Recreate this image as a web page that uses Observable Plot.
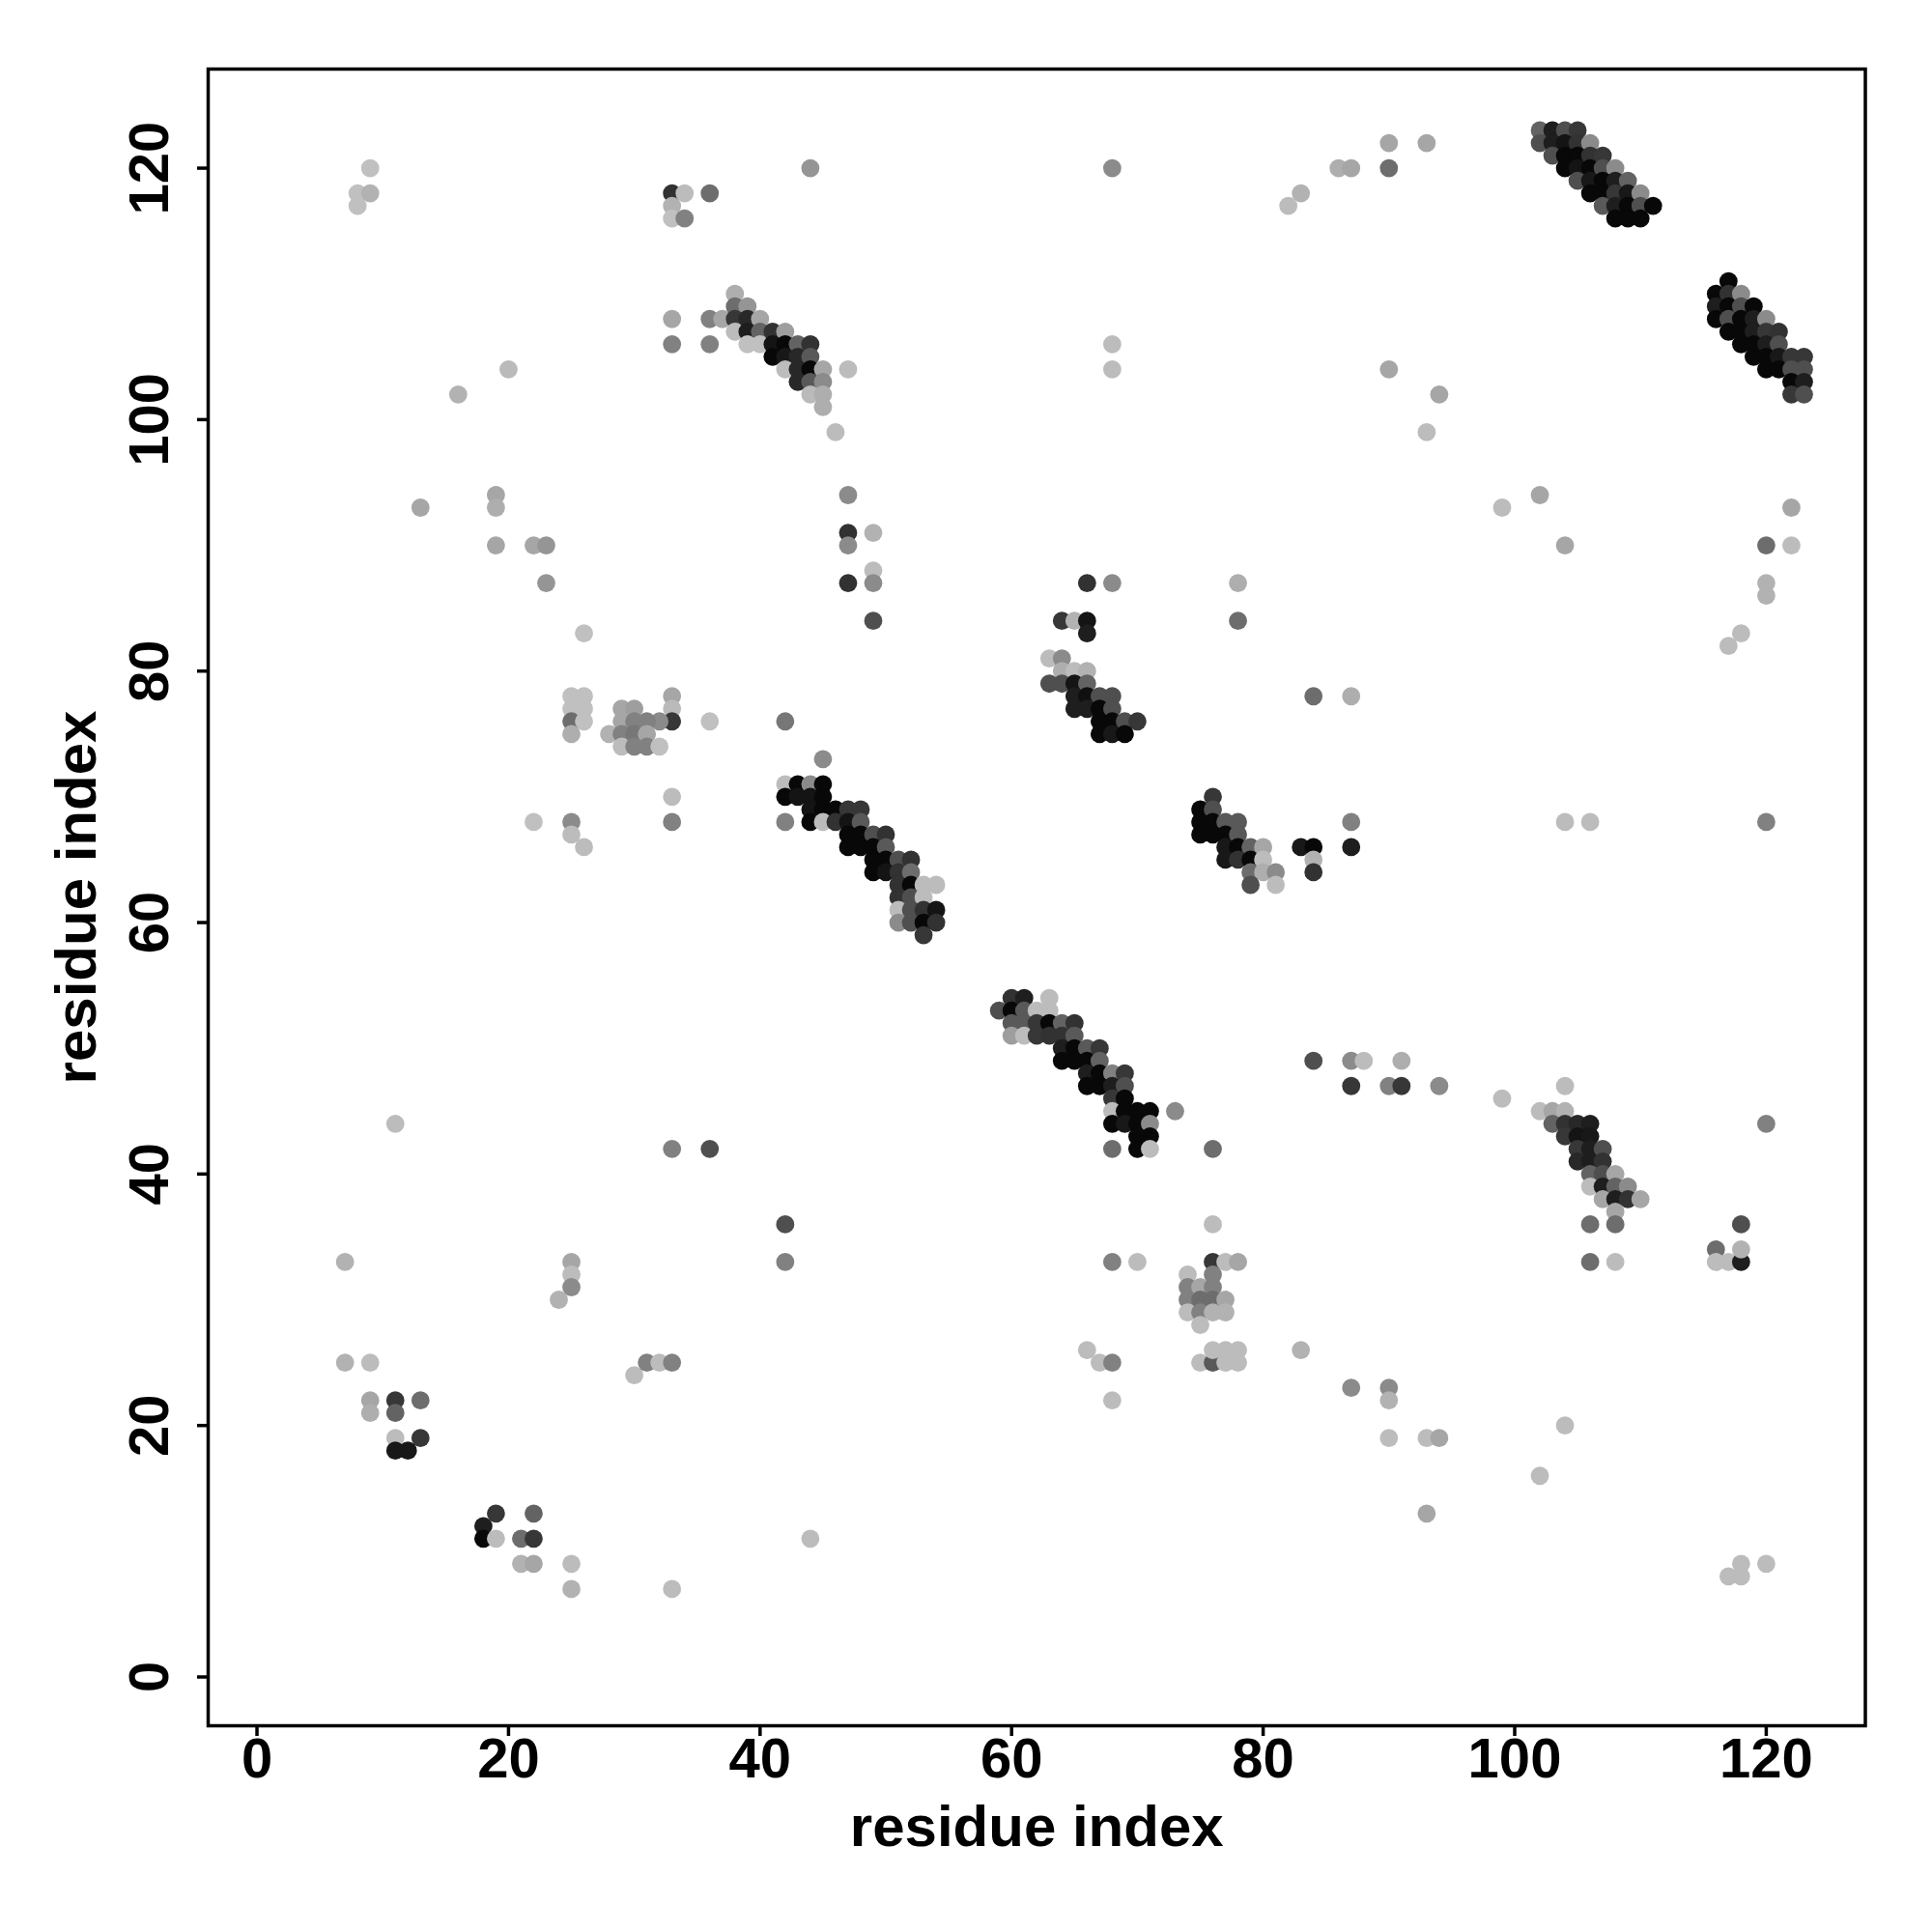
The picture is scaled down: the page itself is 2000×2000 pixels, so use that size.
<!DOCTYPE html>
<html><head><meta charset="utf-8">
<script src="https://cdn.jsdelivr.net/npm/d3@7"></script>
<script src="https://cdn.jsdelivr.net/npm/@observablehq/plot@0.6"></script>
<style>body{margin:0;background:#fff}</style>
</head><body><div id="chart"></div>
<script>
// contacts: [residue i, residue j, contact probability]
const regionTopLeft = [
 [8,117,.03],[8,118,.03],[9,118,.1],[9,120,.03],
 [16,102,.1],[20,104,.06],[19,94,.16],[19,93,.12],[13,93,.16],[19,90,.16],[22,90,.16],[23,90,.25],[23,87,.25],[26,83,.03]
];
const regionLeftMid = [
 [25,78,.03],[26,78,.03],[25,77,.03],[26,77,.03],[25,76,.45],[26,76,.03],[25,75,.12],
 [22,68,.03],[25,68,.3],[25,67,.05],[26,66,.05],
 [33,78,.16],[33,77,.06],[33,76,.72],[32,76,.3],[31,76,.35],[29,77,.16],[30,77,.2],[29,76,.16],[30,76,.35],
 [28,75,.1],[29,75,.35],[30,75,.4],[31,75,.16],[29,74,.05],[30,74,.35],[31,74,.35],[32,74,.03],[36,76,.03],[42,76,.4],
 [33,70,.05],[33,68,.35],[42,68,.35],[45,73,.3]
];
const regionTopMid = [
 [44,120,.25],[33,118,.75],[34,118,.05],[36,118,.45],[33,117,.1],[33,116,.03],[34,116,.35],
 [33,108,.16],[33,106,.35],[36,108,.35],[36,106,.35],[37,108,.16],
 [38,110,.12],[38,109,.45],[39,109,.25],[38,108,.72],[39,108,.8],[40,108,.16],[38,107,.05],[39,107,.85],[40,107,.5],
 [39,106,.03],[40,106,.03],[41,107,.75],[42,107,.2],[41,106,.9],[42,106,.96],[43,106,.5],[44,106,.75],
 [41,105,.96],[42,105,.88],[43,105,.8],[44,105,.55],[42,104,.05],[43,104,.8],[44,104,.96],[45,104,.16],[47,104,.05],
 [43,103,.8],[44,103,.55],[45,103,.3],[44,102,.06],[45,102,.12],[45,101,.12],[46,99,.05],
 [47,94,.3],[47,91,.75],[47,90,.3],[49,91,.1],[49,88,.05],[49,87,.3],[47,87,.75],[49,84,.6]
];
const regionBand4270 = [
 [42,71,.05],[43,71,.96],[44,71,.3],[45,71,.96],[42,70,.96],[43,70,.9],[44,70,.9],[45,70,.96],
 [44,69,.9],[45,69,.96],[46,69,.96],[47,69,.72],[48,69,.72],[44,68,.96],[45,68,.05],[46,68,.75],[47,68,.9],[48,68,.55],
 [47,67,.96],[48,67,.96],[49,67,.6],[50,67,.75],[47,66,.96],[48,66,.96],[49,66,.96],[50,66,.55],
 [49,65,.96],[50,65,.96],[51,65,.6],[52,65,.75],[49,64,.96],[50,64,.9],[51,64,.75],[52,64,.45],
 [51,63,.75],[52,63,.96],[53,63,.05],[54,63,.05],[51,62,.75],[52,62,.6],[53,62,.05],
 [51,61,.05],[52,61,.6],[53,61,.75],[54,61,.9],[51,60,.3],[52,60,.6],[53,60,.96],[54,60,.75],[53,59,.72]
];
const regionBand6050 = [
 [59,53,.6],[60,54,.75],[61,54,.85],[60,53,.96],[61,53,.55],[60,52,.55],[61,52,.55],[60,51,.2],[61,51,.05],
 [63,54,.05],[62,53,.05],[63,53,.05],[62,52,.72],[63,52,.96],[64,52,.5],[65,52,.75],[62,51,.72],[63,51,.75],[64,51,.75],[65,51,.55],
 [64,50,.85],[65,50,.96],[66,50,.55],[67,50,.72],[64,49,.96],[65,49,.96],[66,49,.96],[67,49,.5],
 [66,48,.85],[67,48,.96],[68,48,.35],[69,48,.72],[66,47,.96],[67,47,.96],[68,47,.85],[69,47,.6],
 [68,46,.72],[69,46,.96],[68,45,.05],[69,45,.96],[70,45,.96],[71,45,.96],[68,44,.96],[69,44,.88],[70,44,.96],[71,44,.3],
 [70,43,.96],[71,43,.96],[70,42,.96],[71,42,.05],[73,45,.3],[68,42,.45],[76,42,.45]
];
const regionCenter = [
 [66,87,.75],[68,87,.3],[78,87,.12],[78,84,.45],[64,84,.72],[65,84,.1],[66,84,.9],[66,83,.85],
 [63,81,.05],[64,81,.3],[64,80,.12],[65,80,.05],[66,80,.1],[63,79,.6],[64,79,.6],[65,79,.9],[66,79,.5],
 [65,78,.85],[66,78,.92],[67,78,.6],[68,78,.6],[65,77,.85],[66,77,.85],[67,77,.96],[68,77,.6],
 [67,76,.96],[68,76,.96],[69,76,.6],[70,76,.72],[67,75,.96],[68,75,.88],[69,75,.96],[84,78,.45],[87,78,.12],
 [76,70,.72],[75,69,.96],[76,69,.6],[75,68,.96],[76,68,.96],[77,68,.55],[78,68,.55],[75,67,.96],[76,67,.96],[77,67,.96],[78,67,.55],
 [77,66,.88],[78,66,.96],[79,66,.5],[80,66,.16],[77,65,.88],[78,65,.75],[79,65,.96],[80,65,.05],
 [79,64,.45],[80,64,.12],[81,64,.3],[79,63,.6],[81,63,.05],[83,66,.88],[84,66,.96],[87,66,.85],[84,65,.1],[84,64,.75],[87,68,.35]
];
const regionLower = [
 [11,44,.05],[7,33,.1],[25,33,.16],[25,32,.05],[25,31,.3],[24,30,.1],
 [33,42,.35],[36,42,.6],[42,36,.6],[42,33,.35],
 [84,49,.6],[87,49,.3],[88,49,.05],[91,49,.12],[87,47,.72],[90,47,.35],[91,47,.72],[94,47,.3],
 [76,36,.05],[68,33,.35],[70,33,.05],[76,33,.72],[77,33,.05],[78,33,.16],[74,32,.05],[76,32,.35],
 [74,31,.35],[75,31,.16],[76,31,.35],[74,30,.35],[75,30,.45],[76,30,.45],[77,30,.16],
 [74,29,.05],[75,29,.35],[76,29,.1],[77,29,.1],[75,28,.05],
 [66,26,.05],[67,25,.05],[68,25,.35],[68,22,.05],[75,25,.05],[76,25,.55],[76,26,.05],[77,26,.05],[78,26,.05],[77,25,.05],[78,25,.05],[83,26,.1]
];
const regionBottomLeft = [
 [7,25,.1],[9,25,.05],[9,22,.16],[9,21,.12],[11,22,.72],[11,21,.5],[13,22,.45],[11,19,.05],[13,19,.72],[11,18,.88],[12,18,.88],
 [18,12,.85],[18,11,.96],[19,13,.72],[19,11,.05],[21,11,.45],[22,11,.72],[22,13,.5],[21,9,.1],[22,9,.16],
 [25,9,.05],[25,7,.1],[33,7,.05],[44,11,.05],[30,24,.05],[31,25,.35],[32,25,.05],[33,25,.35]
];
const regionBottomRight = [
 [87,23,.3],[90,23,.3],[90,22,.1],[90,19,.05],[93,19,.05],[94,19,.16],[93,13,.16],[104,20,.05],[102,16,.05],
 [117,8,.05],[118,8,.05],[118,9,.05],[120,9,.05],
 [116,34,.45],[116,33,.05],[117,33,.05],[118,33,.85],[118,34,.1],[118,36,.6],[120,44,.35],
 [99,46,.05],[102,45,.05],[103,45,.16],[104,45,.1],[104,47,.05],[103,44,.5],[104,44,.75],[105,44,.8],[106,44,.85],
 [104,43,.72],[105,43,.9],[106,43,.88],[105,42,.72],[106,42,.85],[107,42,.6],[105,41,.8],[106,41,.85],[107,41,.75],
 [106,40,.5],[107,40,.6],[108,40,.16],[106,39,.05],[107,39,.85],[108,39,.5],[109,39,.3],
 [107,38,.16],[108,38,.85],[109,38,.75],[110,38,.16],[108,37,.16],[106,36,.45],[108,36,.45],[106,33,.45],[108,33,.05]
];
const regionRightMid = [
 [99,93,.05],[102,94,.16],[104,90,.16],[117,82,.05],[118,83,.05],[120,87,.1],[120,86,.1],[120,90,.45],[122,90,.05],[122,93,.16],
 [104,68,.05],[106,68,.05],[120,68,.35]
];
const regionTopRight = [
 [68,120,.3],[90,122,.16],[93,122,.16],[86,120,.12],[87,120,.16],[90,120,.45],[83,118,.1],[82,117,.05],
 [68,106,.05],[68,104,.05],[90,104,.16],[94,102,.16],[93,99,.05],
 [102,123,.5],[103,123,.85],[104,123,.6],[105,123,.72],
 [102,122,.6],[103,122,.85],[104,122,.9],[105,122,.75],[106,122,.3],
 [103,121,.6],[104,121,.96],[105,121,.96],[106,121,.75],[107,121,.72],
 [104,120,.96],[105,120,.9],[106,120,.96],[107,120,.6],[108,120,.3],
 [105,119,.6],[106,119,.88],[107,119,.96],[108,119,.85],[109,119,.5],
 [106,118,.96],[107,118,.96],[108,118,.72],[109,118,.88],[110,118,.3],
 [107,117,.55],[108,117,.85],[109,117,.96],[110,117,.6],[111,117,.96],
 [108,116,.96],[109,116,.96],[110,116,.96],
 [117,111,.96],[116,110,.96],[117,110,.75],[118,110,.3],
 [116,109,.85],[117,109,.96],[118,109,.6],[119,109,.96],
 [116,108,.96],[117,108,.6],[118,108,.96],[119,108,.85],[120,108,.3],
 [117,107,.96],[118,107,.96],[119,107,.85],[120,107,.72],[121,107,.75],
 [118,106,.96],[119,106,.96],[120,106,.85],[121,106,.6],
 [119,105,.96],[120,105,.96],[121,105,.88],[122,105,.72],[123,105,.72],
 [120,104,.96],[121,104,.96],[122,104,.6],[123,104,.6],
 [122,103,.96],[123,103,.85],[122,102,.72],[123,102,.6]
];
const axisTicks = [0, 20, 40, 60, 80, 100, 120];
const axisTitle = "residue index";

const contacts = [
  ...regionTopLeft, ...regionLeftMid, ...regionTopMid, ...regionBand4270, ...regionBand6050,
  ...regionCenter, ...regionLower, ...regionBottomLeft, ...regionBottomRight, ...regionRightMid, ...regionTopRight
].map(([i, j, p]) => ({i, j, p}));

const chart = Plot.plot({
  width: 2000, height: 2000,
  marginLeft: 215, marginRight: 69.5, marginTop: 71, marginBottom: 214,
  style: {fontFamily: "'Liberation Sans', Arial, Helvetica, sans-serif", fontWeight: "bold", fontSize: "58px", color: "black", background: "white"},
  x: {domain: [-3.88, 127.88]},
  y: {domain: [-3.88, 127.88]},
  color: {type: "linear", domain: [0, 1], range: ["#c6c6c6", "#000000"]},
  marks: [
    Plot.dot(contacts, {x: "i", y: "j", r: 9.4, fill: "p"}),
    Plot.frame({stroke: "black", strokeWidth: 3.5}),
    Plot.axisX({ticks: axisTicks, tickSize: 11, strokeWidth: 3.5, tickPadding: 1, label: null}),
    Plot.axisY({ticks: axisTicks, tickSize: 11, strokeWidth: 3.5, tickRotate: -90, tickPadding: 31, label: null}),
    Plot.text([axisTitle], {frameAnchor: "bottom", text: d => d, dy: 105, textAnchor: "middle", lineAnchor: "middle", fontSize: 60, fontWeight: "bold"}),
    Plot.text([axisTitle], {frameAnchor: "left", text: d => d, dx: -136, rotate: -90, textAnchor: "middle", lineAnchor: "middle", fontSize: 60, fontWeight: "bold"})
  ]
});
document.getElementById("chart").append(chart);
</script></body></html>
